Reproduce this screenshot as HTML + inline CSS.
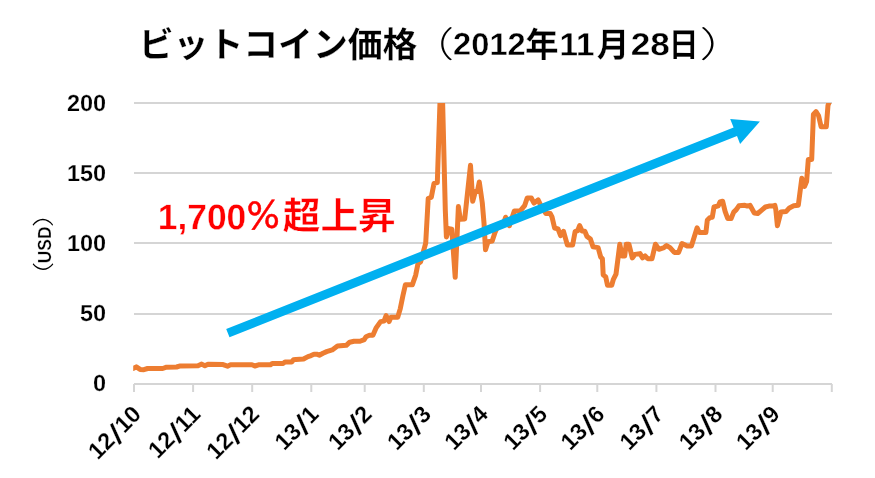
<!DOCTYPE html>
<html lang="ja"><head><meta charset="utf-8"><title>ビットコイン価格</title>
<style>
html,body{margin:0;padding:0;background:#fff;}
body{width:875px;height:478px;overflow:hidden;font-family:"Liberation Sans","Noto Sans CJK JP",sans-serif;}
svg{display:block;}
.lat{font-family:"Liberation Sans",sans-serif;font-weight:700;}
.jp{font-family:"Liberation Sans","Noto Sans CJK JP",sans-serif;font-weight:700;}
.jpt{font-family:"Liberation Sans","Noto Sans CJK JP",sans-serif;font-weight:300;}
.ipa{font-family:"Liberation Sans","IPAGothic",sans-serif;font-weight:400;}
</style></head><body>
<svg width="875" height="478" viewBox="0 0 875 478">
<defs><clipPath id="plot"><rect x="133.2" y="103" width="699.8" height="289"/></clipPath></defs>
<rect width="875" height="478" fill="#fff"/>
<g stroke="#d5d5d5" stroke-width="2">
<line x1="134" x2="832" y1="103" y2="103"/>
<line x1="134" x2="832" y1="173" y2="173"/>
<line x1="134" x2="832" y1="243" y2="243"/>
<line x1="134" x2="832" y1="314" y2="314"/>
<line x1="134" x2="832" y1="384" y2="384"/>
<line x1="134.0" x2="134.0" y1="384" y2="392"/>
<line x1="193.1" x2="193.1" y1="384" y2="392"/>
<line x1="252.2" x2="252.2" y1="384" y2="392"/>
<line x1="311.3" x2="311.3" y1="384" y2="392"/>
<line x1="364.7" x2="364.7" y1="384" y2="392"/>
<line x1="423.8" x2="423.8" y1="384" y2="392"/>
<line x1="481.0" x2="481.0" y1="384" y2="392"/>
<line x1="540.1" x2="540.1" y1="384" y2="392"/>
<line x1="597.3" x2="597.3" y1="384" y2="392"/>
<line x1="656.4" x2="656.4" y1="384" y2="392"/>
<line x1="715.5" x2="715.5" y1="384" y2="392"/>
<line x1="772.7" x2="772.7" y1="384" y2="392"/>
<line x1="831.8" x2="831.8" y1="384" y2="392"/>
</g>
<g class="lat" fill="#000" stroke="#fff" stroke-width="0.2">
<text font-size="23" text-anchor="end" transform="translate(106.11,111.0) rotate(0.05) scale(1.0189,1.0074)">200</text>
<text font-size="23" text-anchor="end" transform="translate(106.11,181.0) rotate(0.05) scale(1.0189,1.0074)">150</text>
<text font-size="23" text-anchor="end" transform="translate(106.11,251.0) rotate(0.05) scale(1.0189,1.0074)">100</text>
<text font-size="23" text-anchor="end" transform="translate(106.11,321.0) rotate(0.05) scale(1.0189,1.0074)">50</text>
<text font-size="23" text-anchor="end" transform="translate(106.11,391.0) rotate(0.05) scale(1.0189,1.0074)">0</text>
<text font-size="23" text-anchor="end" transform="translate(142.6,415.6) rotate(-45) scale(1.02)">12<tspan font-size="29" dx="-0.3" dy="3.5" rotate="10">/</tspan><tspan dx="3.3" dy="-3.5" rotate="0 0">10</tspan></text>
<text font-size="23" text-anchor="end" transform="translate(201.7,415.6) rotate(-45) scale(1.02)">12<tspan font-size="29" dx="-0.3" dy="3.5" rotate="10">/</tspan><tspan dx="3.3" dy="-3.5" rotate="0 0">11</tspan></text>
<text font-size="23" text-anchor="end" transform="translate(260.8,415.6) rotate(-45) scale(1.02)">12<tspan font-size="29" dx="-0.3" dy="3.5" rotate="10">/</tspan><tspan dx="3.3" dy="-3.5" rotate="0 0">12</tspan></text>
<text font-size="23" text-anchor="end" transform="translate(319.9,415.6) rotate(-45) scale(1.02)">13<tspan font-size="29" dx="-0.3" dy="3.5" rotate="10">/</tspan><tspan dx="3.3" dy="-3.5" rotate="0">1</tspan></text>
<text font-size="23" text-anchor="end" transform="translate(373.3,415.6) rotate(-45) scale(1.02)">13<tspan font-size="29" dx="-0.3" dy="3.5" rotate="10">/</tspan><tspan dx="3.3" dy="-3.5" rotate="0">2</tspan></text>
<text font-size="23" text-anchor="end" transform="translate(432.4,415.6) rotate(-45) scale(1.02)">13<tspan font-size="29" dx="-0.3" dy="3.5" rotate="10">/</tspan><tspan dx="3.3" dy="-3.5" rotate="0">3</tspan></text>
<text font-size="23" text-anchor="end" transform="translate(489.6,415.6) rotate(-45) scale(1.02)">13<tspan font-size="29" dx="-0.3" dy="3.5" rotate="10">/</tspan><tspan dx="3.3" dy="-3.5" rotate="0">4</tspan></text>
<text font-size="23" text-anchor="end" transform="translate(548.7,415.6) rotate(-45) scale(1.02)">13<tspan font-size="29" dx="-0.3" dy="3.5" rotate="10">/</tspan><tspan dx="3.3" dy="-3.5" rotate="0">5</tspan></text>
<text font-size="23" text-anchor="end" transform="translate(605.9,415.6) rotate(-45) scale(1.02)">13<tspan font-size="29" dx="-0.3" dy="3.5" rotate="10">/</tspan><tspan dx="3.3" dy="-3.5" rotate="0">6</tspan></text>
<text font-size="23" text-anchor="end" transform="translate(665.0,415.6) rotate(-45) scale(1.02)">13<tspan font-size="29" dx="-0.3" dy="3.5" rotate="10">/</tspan><tspan dx="3.3" dy="-3.5" rotate="0">7</tspan></text>
<text font-size="23" text-anchor="end" transform="translate(724.1,415.6) rotate(-45) scale(1.02)">13<tspan font-size="29" dx="-0.3" dy="3.5" rotate="10">/</tspan><tspan dx="3.3" dy="-3.5" rotate="0">8</tspan></text>
<text font-size="23" text-anchor="end" transform="translate(781.3,415.6) rotate(-45) scale(1.02)">13<tspan font-size="29" dx="-0.3" dy="3.5" rotate="10">/</tspan><tspan dx="3.3" dy="-3.5" rotate="0">9</tspan></text>
</g>
<text fill="#000" transform="rotate(-90.05)"><tspan class="jpt" x="-289.59" y="50.88" font-size="21.66" textLength="27.47" lengthAdjust="spacingAndGlyphs">（</tspan><tspan class="lat" x="-263.25" y="50.70" font-size="18.97" textLength="36.75" lengthAdjust="spacingAndGlyphs" stroke="#fff" stroke-width="0.3">USD</tspan><tspan class="jpt" x="-227.06" y="50.89" font-size="21.536" textLength="28.95" lengthAdjust="spacingAndGlyphs">）</tspan></text>
<polyline clip-path="url(#plot)" points="133.6,368.3 136.3,366.9 140.1,369.4 143.9,369.7 147.6,368.5 162.7,368.5 166.5,367.2 176.6,367.0 180.3,365.9 198.0,365.8 201.7,364.1 204.9,365.8 208.0,364.3 223.1,364.6 227.5,366.2 230.5,364.8 252.0,364.8 254.8,366.0 258.5,364.8 270.5,364.7 272.2,363.4 283.2,363.4 285.0,362.0 291.6,362.0 293.6,359.8 296.0,359.4 303.5,359.0 308.0,356.6 311.1,355.6 314.0,354.2 316.6,354.2 319.3,355.2 323.0,353.2 326.6,351.6 332.2,349.9 337.5,346.0 346.3,345.3 349.7,342.2 354.0,341.3 360.0,341.3 364.3,339.6 366.0,336.7 369.4,335.3 372.9,335.3 376.3,327.6 380.6,321.6 384.0,321.1 386.1,315.6 389.1,321.6 390.9,317.3 397.7,317.3 400.3,308.6 402.9,295.7 405.4,284.8 412.3,284.8 415.7,275.1 418.0,263.6 420.6,261.9 425.7,243.2 428.2,198.6 431.3,197.2 434.0,183.4 437.3,182.6 441.5,57.0 445.3,210.0 446.4,237.0 449.0,228.6 451.8,229.2 455.2,277.3 458.4,206.6 460.3,219.3 464.7,219.1 470.5,165.3 472.7,201.3 475.3,191.6 477.4,191.6 479.3,182.0 482.3,203.0 484.0,223.0 485.5,249.8 488.0,241.7 492.2,241.0 495.0,232.5 497.5,226.5 503.5,223.5 505.6,217.2 509.4,225.6 514.3,211.0 520.3,210.9 524.6,205.7 527.2,198.0 531.3,198.0 534.0,203.1 538.1,199.9 540.9,205.7 546.0,213.6 550.3,213.6 552.0,216.9 554.6,228.0 558.0,228.9 560.6,235.7 563.5,231.4 567.4,245.1 572.6,245.1 575.1,231.6 577.7,230.6 579.6,225.6 582.0,230.9 584.8,231.2 587.0,236.5 590.4,239.1 593.0,246.8 598.1,247.6 600.7,257.0 602.4,258.8 603.2,275.0 605.7,276.7 607.5,285.3 611.7,285.3 613.4,279.3 616.0,274.1 619.8,244.3 622.1,255.9 624.7,255.9 626.2,244.3 628.9,244.2 632.3,257.9 634.9,254.4 640.0,253.6 642.6,257.9 645.1,255.8 647.7,258.7 652.0,258.7 655.4,244.3 658.9,249.3 664.0,247.6 666.6,245.6 670.0,247.6 674.3,252.4 678.6,252.4 682.0,243.5 687.1,245.9 691.4,245.9 697.1,227.8 699.3,232.5 705.9,232.5 707.3,220.3 709.8,217.6 712.3,217.2 714.0,207.0 718.3,205.8 720.0,201.9 722.6,201.2 725.1,211.3 727.7,218.5 731.1,218.5 733.7,212.1 736.3,209.6 738.9,205.8 744.9,205.3 747.4,206.1 750.0,205.3 754.3,213.0 757.7,213.5 762.0,209.9 765.4,207.0 768.9,206.1 772.3,206.1 774.9,205.4 775.8,209.6 777.4,225.7 780.9,212.1 786.0,211.6 789.4,207.9 793.7,205.8 798.3,205.3 801.8,178.2 804.5,186.4 806.6,181.5 808.3,159.6 811.7,159.4 813.4,114.5 816.0,111.6 818.6,115.8 821.1,126.7 826.3,126.7 828.0,105.3 829.7,101.0 831.5,99.0" fill="none" stroke="#ed7d31" stroke-width="5.0" stroke-linejoin="round" stroke-linecap="round"/>
<polygon points="229.5,337.2 737.0,135.9 740.1,143.9 759.9,121.6 730.2,119.0 733.6,127.4 226.2,329.0" fill="#00b0f0"/>
<text fill="#000" transform="rotate(0.05)"><tspan class="jp" x="138.85" y="56.84" font-size="35.203" textLength="278.64" lengthAdjust="spacingAndGlyphs" stroke="#fff" stroke-width="0.2">ビットコイン価格</tspan><tspan class="jpt" x="409.14" y="56.75" font-size="35.255" textLength="45.07" lengthAdjust="spacingAndGlyphs">（</tspan><tspan class="lat" x="453.18" y="54.47" font-size="31.431" textLength="72.51" lengthAdjust="spacingAndGlyphs" stroke="#fff" stroke-width="0.35">2012</tspan><tspan class="jp" x="525.43" y="56.43" font-size="34.461" textLength="33.29" lengthAdjust="spacingAndGlyphs" stroke="#fff" stroke-width="0.2">年</tspan><tspan class="lat" x="559.52" y="54.90" font-size="32.519" textLength="35.12" lengthAdjust="spacingAndGlyphs" stroke="#fff" stroke-width="0.35">11</tspan><tspan class="jp" x="596.92" y="56.34" font-size="33.833" textLength="32.5" lengthAdjust="spacingAndGlyphs" stroke="#fff" stroke-width="0.2">月</tspan><tspan class="lat" x="630.77" y="54.36" font-size="31.434" textLength="39.16" lengthAdjust="spacingAndGlyphs" stroke="#fff" stroke-width="0.35">28</tspan><tspan class="jp" x="668.77" y="56.04" font-size="33.395" textLength="29.76" lengthAdjust="spacingAndGlyphs" stroke="#fff" stroke-width="0.2">日</tspan><tspan class="jpt" x="699.55" y="56.47" font-size="35.307" textLength="49.02" lengthAdjust="spacingAndGlyphs">）</tspan></text>
<text fill="#ff0000" transform="rotate(0.05)"><tspan class="lat" x="157.99" y="229.10" font-size="35.635" textLength="88.42" lengthAdjust="spacingAndGlyphs" stroke="#fff" stroke-width="0.35">1,700</tspan><tspan class="ipa" x="245.70" y="227.31" font-size="33.698" textLength="35.37" lengthAdjust="spacingAndGlyphs" stroke="#f00" stroke-width="0.5">％</tspan><tspan class="jp" x="282.97" y="228.86" font-size="37.464" textLength="113.04" lengthAdjust="spacingAndGlyphs" stroke="#fff" stroke-width="0.4">超上昇</tspan></text>
</svg>
</body></html>
